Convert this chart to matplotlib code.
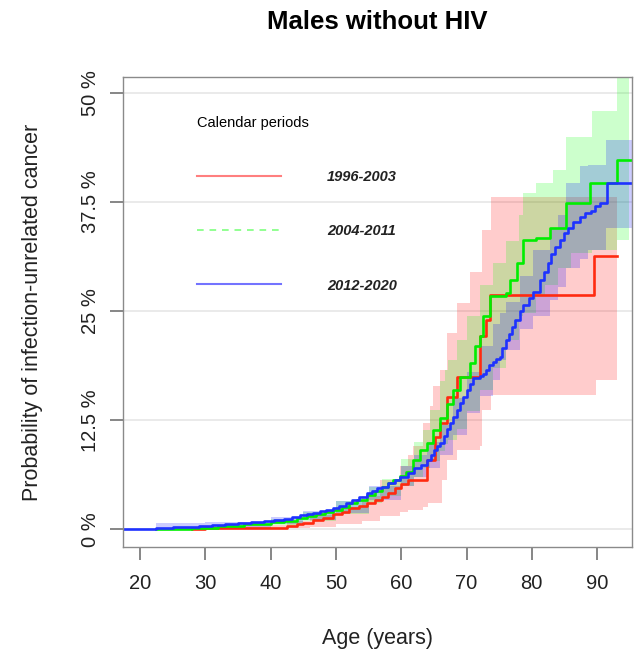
import numpy as np
import matplotlib
matplotlib.use('Agg')
import matplotlib.pyplot as plt
from matplotlib.lines import Line2D

plt.rcParams['font.family'] = ['Liberation Sans', 'DejaVu Sans']

# cumulative incidence step curves (age, %)
red_age = [28, 30, 42.5, 44, 45, 46.5, 48, 49.6, 51, 52, 53.5, 54.7, 56, 57, 58, 59, 60, 61, 63.9, 65.2, 66.0, 67.0,
           68.5, 72.1, 73.0, 73.6, 89.6, 93.0]
red_val = [0, 0.1, 0.4, 0.55, 0.7, 1.1, 1.3, 1.8, 2.0, 2.4, 2.7, 3.0, 3.4, 3.7, 4.2, 4.7, 5.2, 5.7, 7.9, 10.6, 12.2, 15.2,
           17.5, 22.1, 24.0, 26.9, 31.3, 31.3]

green_age = [22.5, 28, 32, 36, 40, 42, 44, 45.5, 47, 48.3, 49.6, 51, 52, 53.3, 54.7, 56, 57, 58, 58.8, 59.8, 60.8, 61.8,
             62.9, 63.9, 64.9, 66, 67, 68, 69, 70.5, 71.3, 72.1, 72.6, 73.6, 76.1, 76.7, 77.7, 78.7, 80.7, 82.8, 85.3,
             88.9, 93.0, 95.5]
green_val = [0, 0.15, 0.35, 0.6, 0.85, 1.0, 1.3, 1.5, 1.8, 2.0, 2.2, 2.6, 3.0, 3.4, 3.9, 4.4, 4.8, 5.3, 5.7, 6.1, 6.6, 7.9,
             9.1, 9.9, 11.4, 12.8, 14.4, 16.0, 17.5, 19.0, 21.0, 22.1, 24.4, 26.7, 27.1, 28.6, 30.5, 33.2, 33.4, 34.5, 37.4,
             39.7, 42.3, 42.3]

blue_age = [17.0, 22.5, 25, 27, 29, 31, 33, 35, 37, 39, 40.5, 42, 43.3, 44.5, 45.5, 46.5, 47.5, 48.5, 49.5, 50.5, 51.5,
            52.5, 53.5, 54.7, 55.5, 56.3, 57, 58, 59, 59.8, 61, 62, 63, 63.9, 64.5, 65, 65.5, 66, 66.5, 67, 67.5, 68,
            68.5, 69, 69.5, 70, 70.5, 71, 72, 72.5, 73, 73.5, 74, 74.5, 75.1, 75.5, 76, 76.5, 77, 77.5, 78.2, 78.7,
            79.5, 80.2, 81.3, 81.8, 82.5, 83, 83.6, 84.3, 85, 85.5, 86.3, 87.4, 88.2, 89, 89.7, 90.4, 91.5, 95.5]
blue_val = [0, 0.15, 0.25, 0.3, 0.4, 0.5, 0.6, 0.7, 0.8, 0.95, 1.05, 1.2, 1.4, 1.6, 1.75, 1.9, 2.1, 2.25, 2.4, 2.7, 3.0,
            3.3, 3.7, 4.1, 4.4, 4.7, 4.9, 5.3, 5.6, 6.0, 6.5, 7.0, 7.4, 7.9, 8.5, 9.1, 9.5, 9.9, 10.7, 11.5, 12.2, 12.9,
            13.7, 14.5, 15.2, 16.0, 16.7, 17.3, 17.6, 17.8, 18.3, 18.8, 19.2, 19.5, 19.8, 20.8, 21.7, 22.4, 23.2, 24.0,
            25.0, 25.7, 26.5, 27.2, 28.6, 29.5, 30.5, 31.5, 32.4, 33.2, 34.0, 34.5, 35.2, 35.8, 36.2, 36.5, 37.0, 37.4,
            39.7, 39.7]

# confidence bands (age, lower %, upper %)
red_band_age = [28, 35, 42.5, 46, 50, 54, 56.75, 59.8, 61.1, 61.85, 63.4, 64.1, 64.4, 64.9, 65.9, 66.2, 67.0, 68.5, 70.5,
                72.1, 72.3, 73.8, 89.8, 93.0]
red_band_lo = [0, 0, 0.1, 0.3, 0.6, 1.0, 1.5, 2.0, 2.2, 2.2, 2.6, 3.0, 3.0, 3.0, 3.0, 5.7, 7.9, 9.1, 9.1,
               9.5, 13.7, 15.4, 17.1, 17.1]
red_band_hi = [0.3, 0.5, 0.9, 1.6, 2.6, 3.8, 5.7, 7.2, 8.5, 9.5, 12.2, 12.2, 14.1, 16.4, 18.3, 18.3, 22.5, 25.9, 29.5,
               29.5, 34.3, 38.1, 38.1, 38.1]

green_band_age = [28, 40, 45, 50, 55, 57, 60, 62, 63.4, 64.4, 65.9, 66.7, 67.1, 68.5, 70, 72.1, 74, 76, 78, 78.7, 80.7,
                  82, 83.3, 84, 85.3, 86, 89.2, 93.0, 94.9]
green_band_lo = [0, 0.5, 1.0, 1.7, 3.0, 3.8, 5.0, 6.0, 7.0, 7.8, 9.0, 9.8, 10.2, 11.5, 13.5, 16.0, 18.5, 21.7, 24.5, 24.8,
                 26.7, 28.0, 28.0, 30.0, 30.0, 31.7, 32.0, 33.2, 33.2]
green_band_hi = [0.3, 1.2, 2.0, 3.2, 4.8, 5.8, 8.0, 10.0, 11.4, 13.7, 17.0, 18.3, 19.4, 21.7, 24.5, 28.0, 30.5, 33.0, 36.0,
                 38.5, 39.7, 39.7, 41.2, 41.2, 45.0, 45.0, 47.9, 51.7, 51.7]

blue_band_age = [22.5, 30, 40, 45, 50, 55, 60, 62, 64, 66, 68, 70, 72, 74, 75.1, 76, 78.2, 80.2, 82.8, 84.0, 85.3, 87.4,
                 88.6, 90.0, 91.4, 95.5]
blue_band_lo = [0, 0.2, 0.6, 1.1, 1.9, 3.3, 5.0, 6.0, 7.0, 8.5, 10.8, 13.3, 15.3, 17.1, 19.4, 20.5, 22.9, 24.4, 26.3, 27.8,
                30.0, 31.0, 32.0, 32.0, 34.5, 34.5]
blue_band_hi = [0.7, 0.8, 1.4, 2.1, 3.2, 5.0, 7.2, 8.5, 10.0, 12.0, 15.0, 18.0, 21.0, 23.5, 24.8, 26.0, 29.0, 32.0, 34.5,
                36.0, 39.7, 41.6, 41.8, 41.8, 44.6, 44.6]

periods = ['1996-2003', '2004-2011', '2012-2020']
x_ticks = [20, 30, 40, 50, 60, 70, 80, 90]
y_ticks = [0, 12.5, 25, 37.5, 50]
y_labels = ['0 %', '12.5 %', '25 %', '37.5 %', '50 %']

fig = plt.figure(figsize=(6.39, 6.52), dpi=100)
ax = fig.add_axes([0.192, 0.1615, 0.7966, 0.7199])

ax.fill_between(red_band_age, red_band_lo, red_band_hi, step='post', color='#FF0000', alpha=0.2, linewidth=0)
ax.fill_between(green_band_age, green_band_lo, green_band_hi, step='post', color='#00FF00', alpha=0.2, linewidth=0)
ax.fill_between(blue_band_age, blue_band_lo, blue_band_hi, step='post', color='#0000FF', alpha=0.2, linewidth=0)

ax.step(red_age, red_val, where='post', color='#FF2A10', lw=1.9)
ax.step(green_age, green_val, where='post', color='#00EE00', lw=1.9)
ax.step(blue_age, blue_val, where='post', color='#1E32FF', lw=1.9)

ax.set_xlim(17.35, 95.3)
ax.set_ylim(-2.0, 51.8)
ax.set_xticks(x_ticks)
ax.set_yticks(y_ticks)
ax.set_yticklabels(y_labels, rotation=90, va='center')
ax.tick_params(axis='both', labelsize=14.5, length=9.5, width=1.1, color='#666666', labelcolor='#222222')
ax.tick_params(axis='x', pad=10)
ax.tick_params(axis='y', pad=7)
ax.grid(axis='y', color='#e6e6e6', lw=1.2)
ax.set_axisbelow(True)
for s in ax.spines.values():
    s.set_color('#8a8a8a')
    s.set_linewidth(1.0)

ax.set_xlabel('Age (years)', fontsize=15.5, color='#222222', va='top')
ax.xaxis.set_label_coords(0.5, -0.173)
ax.set_ylabel('Probability of infection-unrelated cancer', fontsize=15.5, color='#222222', va='center')
ax.yaxis.set_label_coords(-0.178, 0.5)

fig.text(0.5903, 0.966, 'Males without HIV', ha='center', va='center', fontsize=18.5, fontweight='bold')

handles = [Line2D([], [], color='#FF0000', alpha=0.5, lw=1.5),
           Line2D([], [], color='#00FF00', alpha=0.5, lw=1.2, ls=(0, (4, 3.5))),
           Line2D([], [], color='#0000FF', alpha=0.55, lw=1.5)]
leg = ax.legend(handles, periods, title='Calendar periods', loc='upper left', bbox_to_anchor=(0.1454, 0.917),
                frameon=False, borderpad=0, borderaxespad=0, handlelength=5.75, handletextpad=3.2,
                labelspacing=2.75, alignment='left',
                prop={'size': 10.5, 'weight': 'bold', 'style': 'italic'},
                title_fontproperties={'size': 10.5})
for t in leg.get_texts():
    t.set_color('#222222')

fig.savefig('out.png', dpi=100)
